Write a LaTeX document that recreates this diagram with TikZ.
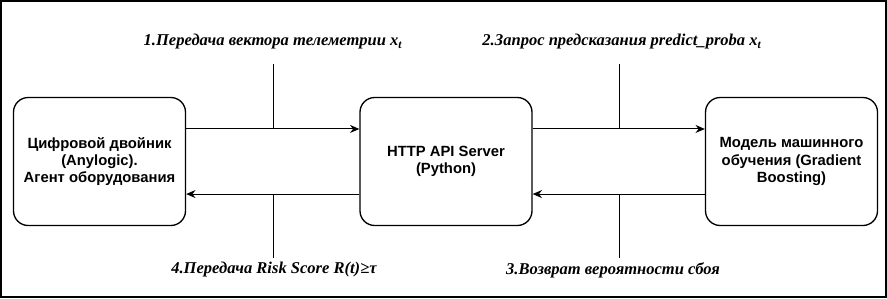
\documentclass[tikz,border=0pt]{standalone}
\usepackage{fontspec}
\setmainfont{Liberation Serif}
\setsansfont{Liberation Sans}
\usetikzlibrary{arrows.meta}
\begin{document}
\begin{tikzpicture}[x=0.75pt,y=-0.75pt,
  box/.style={draw,line width=1pt,rounded corners=11pt,minimum width=129pt,minimum height=96pt,align=center,font=\sffamily\bfseries\fontsize{11.1}{13}\selectfont},
  lbl/.style={font=\bfseries\itshape\fontsize{12.4}{14}\selectfont},
  arr/.style={-{Stealth[length=7pt,width=6pt]},line width=0.75pt},
  tick/.style={line width=0.75pt}]
  \useasboundingbox (0,0) rectangle (887,298);
  \draw[line width=1.5pt] (1,1) rectangle (886,297);
  % blocks
  \node[box] (twin) at (99.5,161.5) {Цифровой двойник\\(Anylogic).\\Агент оборудования};
  \node[box] (srv) at (446,161.5) {HTTP API Server\\(Python)};
  \node[box] (ml) at (791.5,161.5) {Модель машинного\\обучения (Gradient\\Boosting)};
  % arrow ends
  \coordinate (a1) at ([yshift=24.4pt]twin.east); \coordinate (b1) at ([yshift=24.4pt]srv.west);
  \coordinate (a2) at ([yshift=24.4pt]srv.east); \coordinate (b2) at ([yshift=24.4pt]ml.west);
  \coordinate (a3) at ([yshift=-24.4pt]ml.west); \coordinate (b3) at ([yshift=-24.4pt]srv.east);
  \coordinate (a4) at ([yshift=-24.4pt]srv.west); \coordinate (b4) at ([yshift=-24.4pt]twin.east);
  \draw[arr] (a1) -- (b1); \draw[arr] (a2) -- (b2);
  \draw[arr] (a3) -- (b3); \draw[arr] (a4) -- (b4);
  % labels
  \node[lbl] (l1) at (273,42) {1.Передача вектора телеметрии x\textsubscript{t}};
  \node[lbl] (l2) at (622,42) {2.Запрос предсказания predict\_proba x\textsubscript{t}};
  \node[lbl] (l3) at (613,270) {3.Возврат вероятности сбоя};
  \node[lbl] (l4) at (274,270) {4.Передача Risk Score R(t)≥τ};
  \coordinate (p1) at (273,64); \coordinate (p2) at (619,64);
  \coordinate (p3) at (619,258); \coordinate (p4) at (273,258);
  \draw[tick] (p1) -- (p1 |- a1); \draw[tick] (p2) -- (p2 |- a2);
  \draw[tick] (p3) -- (p3 |- a3); \draw[tick] (p4) -- (p4 |- a4);
\end{tikzpicture}
\end{document}
